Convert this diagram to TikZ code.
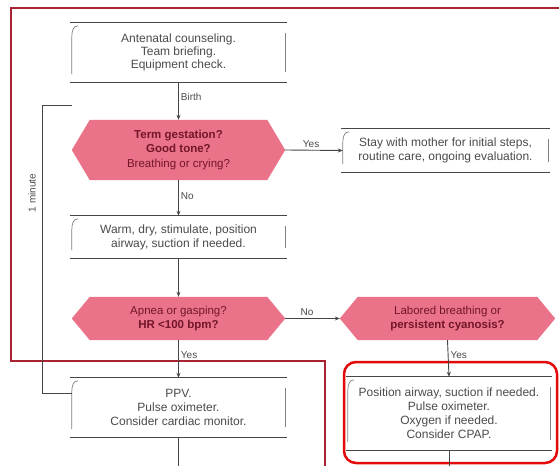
\documentclass[tikz,border=0pt]{standalone}
\usepackage{fontspec}
\setmainfont{Liberation Sans}
\usetikzlibrary{arrows.meta,backgrounds,calc}
\definecolor{framered}{RGB}{170,35,50}
\definecolor{hexfill}{RGB}{234,115,138}
\definecolor{hextext}{RGB}{115,22,42}
\definecolor{boxtext}{RGB}{75,75,75}
\definecolor{linegray}{RGB}{70,70,70}
\definecolor{brightred}{RGB}{228,10,10}
\tikzset{
  boxnode/.style={rectangle, inner sep=0pt, align=center, text=boxtext, font=\fontsize{12}{14}\selectfont},
  hexnode/.style={rectangle, inner sep=0pt, align=center, text=hextext, font=\fontsize{11.5}{14.5}\selectfont},
  edgeline/.style={draw=linegray, line width=1.3pt},
  sideline/.style={draw=gray, line width=0.7pt},
  conn/.style={draw=linegray, line width=0.9pt},
  arr/.style={conn, -{Stealth[length=5pt,width=4pt]}},
  lbl/.style={font=\fontsize{10}{11}\selectfont, text=boxtext, inner sep=2pt},
}
\newcommand{\drawboxframe}[1]{%
  \draw[edgeline] ([xshift=-2pt]#1.north west) -- ([xshift=2pt]#1.north east);
  \draw[edgeline] ([xshift=-2pt]#1.south west) -- ([xshift=2pt]#1.south east);
  \draw[sideline] ([xshift=6pt,yshift=-3pt]#1.north west) to[out=180,in=90] ([yshift=-14pt]#1.north west) -- ([yshift=8pt]#1.south west);
  \draw[sideline] ([yshift=-10pt]#1.north east) -- ([yshift=10pt]#1.south east);
}
\newcommand{\hexbg}[1]{%
  \begin{scope}[on background layer]
    \fill[hexfill] ([xshift=-18pt]#1.west) -- (#1.north west) -- (#1.north east) -- ([xshift=18pt]#1.east) -- (#1.south east) -- (#1.south west) -- cycle;
  \end{scope}
}
\begin{document}
\begin{tikzpicture}[x=1pt,y=1pt]
\useasboundingbox (0,0) rectangle (559,466);
\begin{scope}[on background layer]
\fill[white] (0,0) rectangle (559,466);
\end{scope}

% frames
\draw[framered, line width=2.5pt] (559,458) -- (11,458) -- (11,105) -- (325,105) -- (325,0);
\draw[brightred, line width=2.5pt, rounded corners=12pt] (344,104) rectangle (557,3);

% nodes
\node[boxnode, minimum width=213pt, minimum height=59pt, font=\fontsize{12}{13.2}\selectfont] (b1) at (178.5,413.5) {Antenatal counseling.\\Team briefing.\\Equipment check.};
\node[hexnode, minimum width=177pt, minimum height=60pt] (d1) at (178.5,316) {\textbf{Term gestation?}\\\textbf{Good tone?}\\Breathing or crying?};
\node[boxnode, minimum width=213pt, minimum height=42pt] (b2) at (178.5,229) {Warm, dry, stimulate, position\\airway, suction if needed.};
\node[hexnode, minimum width=177pt, minimum height=43pt] (d2) at (178.5,147.5) {Apnea or gasping?\\\textbf{HR <100 bpm?}};
\node[boxnode, minimum width=213pt, minimum height=59pt] (b3) at (178.5,58.5) {PPV.\\Pulse oximeter.\\Consider cardiac monitor.};
\node[boxnode, minimum width=205pt, minimum height=43pt] (stay) at (445.5,315.5) {Stay with mother for initial steps,\\routine care, ongoing evaluation.};
\node[hexnode, minimum width=179pt, minimum height=43pt] (d3) at (447.5,147.5) {Labored breathing or\\\textbf{persistent cyanosis?}};
\node[boxnode, minimum width=202pt, minimum height=73pt] (b4) at (449,52.5) {Position airway, suction if needed.\\Pulse oximeter.\\Oxygen if needed.\\Consider CPAP.};

\drawboxframe{b1}
\drawboxframe{b2}
\drawboxframe{b3}
\drawboxframe{stay}
\drawboxframe{b4}
\hexbg{d1}
\hexbg{d2}
\hexbg{d3}

% connectors
\coordinate (d1tip) at ([xshift=18pt]d1.east);
\coordinate (d2tip) at ([xshift=18pt]d2.east);
\coordinate (d3tip) at ([xshift=-18pt]d3.west);
\coordinate (b3out) at (178.5,0);
\coordinate (b4out) at (449,0);
\coordinate (loopstart) at (72,361);

\draw[arr] (b1.south) -- node[lbl,right,pos=0.4]{Birth} (d1.north);
\draw[arr] (d1.south) -- node[lbl,right,pos=0.45]{No} (b2.north);
\draw[arr] (b2.south) -- (d2.north);
\draw[arr] (d2.south) -- node[lbl,right,pos=0.4]{Yes} (b3.north);
\draw[conn] (b3.south) -- (b3out);
\draw[arr] (d1tip) -- node[lbl,above,pos=0.45]{Yes} (stay.west);
\draw[arr] (d2tip) -- node[lbl,above,pos=0.4]{No} (d3tip);
\draw[arr] (d3.south) -- node[lbl,right,pos=0.4]{Yes} (b4.north);
\draw[conn] (b4.south) -- (b4out);
\draw[conn] (loopstart) -- ++(-30,0) |- ([yshift=14.5pt]b3.west);
\node[lbl, rotate=90] (minlbl) at (32,273) {1 minute};
\end{tikzpicture}
\end{document}
